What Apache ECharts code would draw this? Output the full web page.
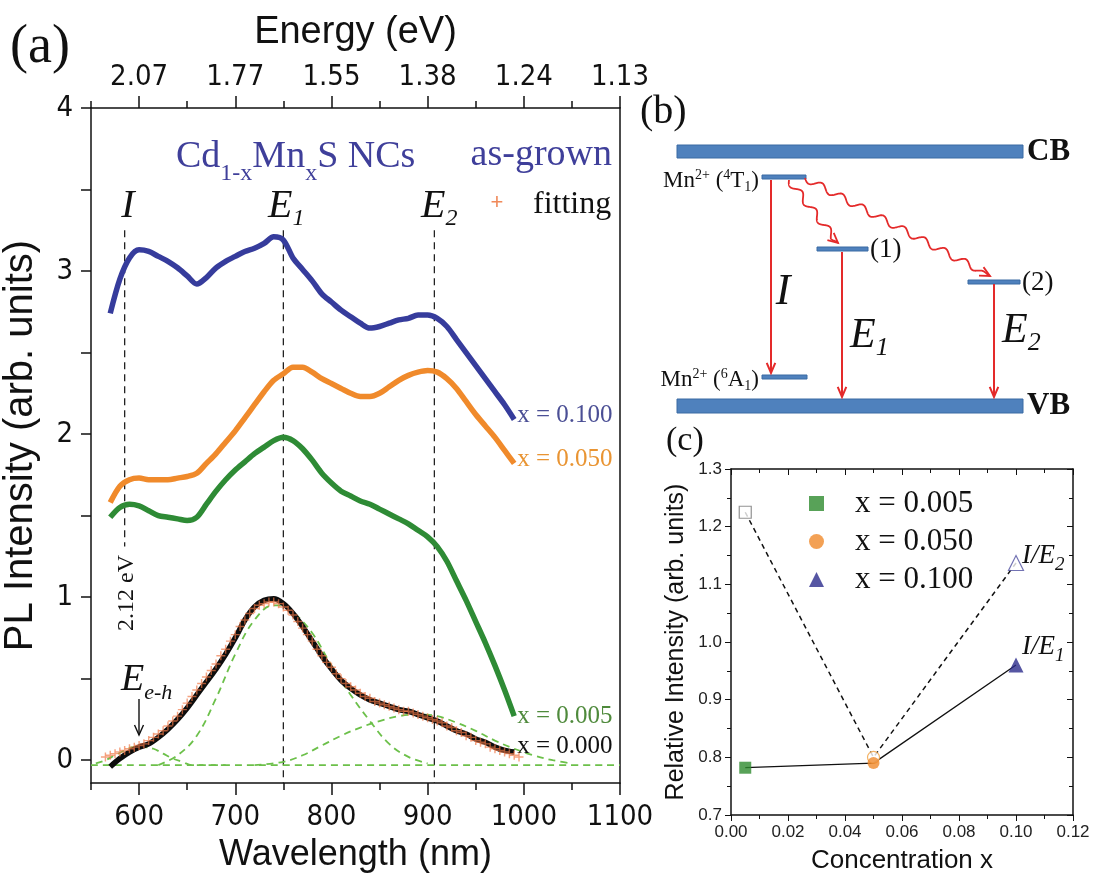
<!DOCTYPE html>
<html>
<head>
<meta charset="utf-8">
<script src="https://cdn.jsdelivr.net/npm/echarts@6/dist/echarts.min.js"></script>
<style>html,body{margin:0;padding:0;background:#fff}#main{width:1094px;height:879px}</style>
</head>
<body>
<div id="main"></div>
<script>
// ---- panel (a): PL spectra of Cd1-xMnxS NCs ----
const wl = [570,580,590,600,610,620,630,640,650,660,670,680,690,700,710,720,730,740,750,760,770,780,790,800,810,820,830,840,850,860,870,880,890,900,910,920,930,940,950,960,970,980,990];
const pl100 = [2.74,2.95,3.08,3.13,3.12,3.09,3.06,3.02,2.97,2.92,2.96,3.02,3.06,3.09,3.12,3.14,3.17,3.21,3.19,3.08,3.01,2.94,2.86,2.81,2.76,2.72,2.68,2.65,2.66,2.68,2.70,2.71,2.73,2.73,2.71,2.66,2.58,2.50,2.42,2.34,2.26,2.18,2.09];
const pl050 = [1.58,1.68,1.72,1.73,1.72,1.72,1.72,1.73,1.74,1.76,1.82,1.88,1.95,2.02,2.10,2.18,2.26,2.33,2.37,2.41,2.41,2.38,2.34,2.31,2.28,2.25,2.23,2.23,2.25,2.29,2.33,2.36,2.38,2.39,2.38,2.34,2.28,2.20,2.12,2.05,1.98,1.90,1.82];
const pl005 = [1.49,1.55,1.57,1.56,1.53,1.50,1.49,1.48,1.47,1.49,1.57,1.65,1.72,1.78,1.83,1.88,1.92,1.96,1.98,1.96,1.91,1.84,1.76,1.70,1.65,1.62,1.59,1.57,1.54,1.51,1.48,1.45,1.41,1.37,1.31,1.22,1.10,0.98,0.85,0.72,0.58,0.43,0.27];
const pl000 = [-0.04,0.01,0.05,0.08,0.10,0.14,0.19,0.25,0.32,0.40,0.48,0.56,0.65,0.75,0.86,0.94,0.98,0.99,0.96,0.90,0.82,0.73,0.64,0.56,0.49,0.44,0.40,0.37,0.35,0.33,0.31,0.30,0.28,0.26,0.24,0.21,0.18,0.16,0.13,0.11,0.08,0.06,0.05];

// fitting (crosses)
const wlFit = [565,570,575,580,585,590,595,600,605,610,615,620,625,630,635,640,645,650,655,660,665,670,675,680,685,690,695,700,705,710,715,720,725,730,735,740,745,750,755,760,765,770,775,780,785,790,795,800,805,810,815,820,825,830,835,840,845,850,855,860,865,870,875,880,885,890,895,900,905,910,915,920,925,930,935,940,945,950,955,960,965,970,975,980,985,990,995];
const plFit = [0.02,0.03,0.04,0.05,0.06,0.07,0.08,0.09,0.10,0.12,0.14,0.16,0.18,0.21,0.24,0.27,0.31,0.35,0.39,0.43,0.47,0.51,0.55,0.59,0.64,0.68,0.73,0.77,0.82,0.86,0.90,0.93,0.95,0.96,0.97,0.97,0.96,0.94,0.92,0.89,0.85,0.81,0.77,0.73,0.68,0.64,0.60,0.57,0.53,0.50,0.47,0.45,0.43,0.41,0.39,0.38,0.36,0.35,0.34,0.33,0.32,0.31,0.30,0.30,0.29,0.28,0.27,0.26,0.25,0.24,0.23,0.21,0.20,0.18,0.17,0.15,0.14,0.12,0.11,0.10,0.08,0.07,0.06,0.05,0.04,0.03,0.02];

// fitted components (green dashed)
const compIwl = [555,565,575,585,595,605,615,625,635,645,655,670,690];
const compIval = [-0.02,0.00,0.03,0.06,0.08,0.08,0.07,0.04,0.01,-0.01,-0.03,-0.03,-0.03];
const compE1wl = [620,640,660,680,700,720,740,750,760,780,800,820,840,860,880,900];
const compE1val = [-0.03,0.03,0.15,0.38,0.65,0.86,0.95,0.95,0.91,0.78,0.58,0.40,0.24,0.10,0.02,-0.02];
const compE2wl = [720,750,770,790,810,830,850,870,890,910,930,950,970,990,1010,1030,1050];
const compE2val = [-0.03,-0.01,0.03,0.09,0.15,0.20,0.24,0.27,0.28,0.27,0.23,0.18,0.12,0.07,0.03,0.00,-0.02];
const baseWl = [550,1100];
const baseVal = [-0.03,-0.03];

// peak positions I, E1, E2 (vertical dashed lines)
const peakWl = [585,750,907];
const peakTop = [3.25,3.25,3.25];
const peakBottom = [1.31,-0.14,-0.14];

// ticks
const wlMajor = [600,700,800,900,1000,1100];
const wlMinor = [550,650,750,850,950,1050];
const energyLabels = ['2.07','1.77','1.55','1.38','1.24','1.13'];
const plLabels = [0,1,2,3,4];
const plTicks = [0,0.5,1,1.5,2,2.5,3,3.5,4];

// ---- panel (c): relative intensity vs concentration ----
const conc = [0.005,0.050,0.100];
const ratioE1 = [0.782,0.790,0.960];
const ratioE2 = [1.225,0.800,1.137];
const concNames = ['x = 0.005','x = 0.050','x = 0.100'];

const SERIF = '"Liberation Serif","Times New Roman",serif';
const SANS = '"Liberation Sans",Arial,sans-serif';
const NARROW = '"Liberation Sans Narrow","DejaVu Sans Condensed","Liberation Sans",sans-serif';

const cBlue = '#363c9c', cOrange = '#f08a2b', cGreen = '#2e8b35', cBlack = '#0d0d0d';
const cDash = '#6cc04a', cRed = '#e42a2a', cBar = '#4f81bd';
const cMk = ['#2e8b2e','#f0892a','#2c2c8c'];
const mkSym = ['rect','circle','triangle'];
const mkSize = [12,12,15];

const pairs = (xs, ys) => xs.map((x, i) => [x, ys[i]]);

function spectrum(name, vals, color, label, lblColor, off) {
  return {
    name, type: 'line', xAxisIndex: 0, yAxisIndex: 0,
    data: pairs(wl, vals), smooth: 0.3, showSymbol: false, z: 4,
    lineStyle: { color, width: 5.5 },
    endLabel: { show: true, formatter: label, color: lblColor, fontFamily: SERIF, fontSize: 25, distance: 3, offset: off }
  };
}
function dashed(xs, ys) {
  return { type: 'line', xAxisIndex: 0, yAxisIndex: 0, data: pairs(xs, ys), smooth: 0.4, showSymbol: false, z: 3,
    lineStyle: { color: cDash, width: 1.8, type: [7, 5] } };
}

// ---- panel (b) helpers ----
function vHead(x, y, dx, dy, len, spread) {
  const a = Math.atan2(dy, dx);
  return [[x - len * Math.cos(a - spread), y - len * Math.sin(a - spread)], [x, y],
          [x - len * Math.cos(a + spread), y - len * Math.sin(a + spread)]];
}
function wavy(x1, y1, x2, y2, waves, amp) {
  const pts = [], dx = x2 - x1, dy = y2 - y1, L = Math.hypot(dx, dy), nx = -dy / L, ny = dx / L;
  for (let i = 0; i <= 300; i++) {
    const t = i / 300;
    const o = amp * Math.sin(2 * Math.PI * waves * t) * (t < 0.9 ? 1 : (1 - t) / 0.1);
    pts.push([x1 + dx * t + nx * o, y1 + dy * t + ny * o]);
  }
  return pts;
}
const line = (pts, color, w) => ({ type: 'polyline', shape: { points: pts }, style: { stroke: color, fill: null, lineWidth: w } });
const bar = (x, y, w, h) => ({ type: 'rect', shape: { x, y, width: w, height: h }, style: { fill: cBar, stroke: '#3b6aa3', lineWidth: 1 } });
const txt = (x, y, text, font, fill, align, extra) => Object.assign({ type: 'text', x, y,
  style: { text, font, fill: fill || '#111', textAlign: align || 'left', textVerticalAlign: 'middle' } }, extra || {});
const rtxt = (x, y, text, rich, align) => ({ type: 'text', x, y,
  style: { text, rich, textAlign: align || 'left', textVerticalAlign: 'middle' } });

const subRich = (size, sub, color, italic, drop) => ({
  m: { fontFamily: SERIF, fontSize: size, fill: color, fontStyle: italic ? 'italic' : 'normal' },
  s: { fontFamily: SERIF, fontSize: sub, fill: color, fontStyle: italic ? 'italic' : 'normal', padding: [drop, 0, 0, 0] }
});
const mnRich = (size, small) => ({
  n: { fontFamily: SERIF, fontSize: size, fill: '#111' },
  p: { fontFamily: SERIF, fontSize: small, fill: '#111', padding: [0, 0, 11, 0] },
  q: { fontFamily: SERIF, fontSize: small, fill: '#111', padding: [12, 0, 0, 0] }
});

const graphics = [
  // panel (a) annotations
  txt(10, 48, '(a)', '54px ' + SERIF, '#111'),
  rtxt(176, 157, '{m|Cd}{s|1-x}{m|Mn}{s|x}{m|S NCs}', subRich(38, 24, '#3f3f9a', false, 34)),
  txt(612, 155, 'as-grown', '38px ' + SERIF, '#3f3f9a', 'right'),
  txt(497, 203, '+', '22px ' + SANS, '#f08a5a', 'center'),
  txt(533, 205, 'fitting', '32px ' + SERIF, '#111'),
  txt(128, 206, 'I', 'italic 40px ' + SERIF, '#111', 'center'),
  rtxt(268, 206, '{m|E}{s|1}', subRich(40, 24, '#111', true, 26)),
  rtxt(421, 206, '{m|E}{s|2}', subRich(40, 24, '#111', true, 26)),
  txt(127, 593, '2.12 eV', '24px ' + SERIF, '#111', 'center', { rotation: Math.PI / 2 }),
  rtxt(121, 680, '{m|E}{s|e-h}', subRich(38, 22, '#111', true, 26)),
  line([[139, 699], [139, 735]], '#111', 1.4),
  line(vHead(139, 735, 0, 1, 11, 0.42), '#111', 1.4),

  // panel (b) energy diagram
  txt(640, 112, '(b)', '40px ' + SERIF, '#111'),
  bar(677, 145, 346, 13),
  bar(677, 399, 346, 14),
  txt(1027, 152, 'CB', 'bold 31px ' + SERIF, '#111'),
  txt(1027, 406, 'VB', 'bold 31px ' + SERIF, '#111'),
  bar(762, 175, 44, 4),
  bar(817, 247, 51, 4),
  bar(968, 280, 52, 4),
  bar(762, 375, 45, 4),
  rtxt(759, 181, '{n|Mn}{p|2+}{n| (}{p|4}{n|T}{q|1}{n|)}', mnRich(23, 14), 'right'),
  rtxt(759, 380, '{n|Mn}{p|2+}{n| (}{p|6}{n|A}{q|1}{n|)}', mnRich(23, 14), 'right'),
  txt(870, 250, '(1)', '27px ' + SERIF, '#111'),
  txt(1022, 283, '(2)', '27px ' + SERIF, '#111'),
  line([[771, 180], [771, 373]], cRed, 2),
  line(vHead(771, 373, 0, 1, 11, 0.4), cRed, 2),
  line([[842, 252], [842, 397]], cRed, 2),
  line(vHead(842, 397, 0, 1, 11, 0.4), cRed, 2),
  line([[994, 284], [994, 397]], cRed, 2),
  line(vHead(994, 397, 0, 1, 11, 0.4), cRed, 2),
  line(wavy(789, 180, 838, 243, 3.5, 3.5), cRed, 1.8),
  line(vHead(838, 243, 0.75, 0.66, 11, 0.45), cRed, 1.8),
  line(wavy(805, 178, 990, 276, 9, 3.5), cRed, 1.8),
  line(vHead(990, 276, 0.88, 0.47, 11, 0.45), cRed, 1.8),
  txt(783, 292, 'I', 'italic 44px ' + SERIF, '#111', 'center'),
  rtxt(850, 336, '{m|E}{s|1}', subRich(42, 26, '#111', true, 24)),
  rtxt(1002, 331, '{m|E}{s|2}', subRich(42, 26, '#111', true, 24)),

  // panel (c) annotations
  txt(666, 441, '(c)', '34px ' + SERIF, '#111'),
  rtxt(1022, 556, '{m|I/E}{s|2}', subRich(27, 19, '#111', true, 18)),
  rtxt(1022, 647, '{m|I/E}{s|1}', subRich(27, 19, '#111', true, 18))
];

const axisBase = { axisLine: { onZero: false, lineStyle: { color: '#111', width: 1.5 } }, splitLine: { show: false } };

const option = {
  animation: false,
  backgroundColor: '#fff',
  grid: [
    { left: 90, right: 474, top: 108, bottom: 96 },
    { left: 731, right: 21, top: 469, bottom: 64 }
  ],
  legend: {
    data: concNames, orient: 'vertical', left: 804, top: 483,
    itemWidth: 15, itemHeight: 15, itemGap: 7,
    textStyle: { fontFamily: SERIF, fontSize: 31, color: '#111', padding: [0, 0, 0, 26] }
  },
  xAxis: [
    Object.assign({}, axisBase, {
      gridIndex: 0, type: 'value', position: 'bottom', min: 550, max: 1100,
      axisTick: { customValues: wlMajor, length: 12, lineStyle: { color: '#111', width: 1.5 } },
      axisLabel: { customValues: wlMajor, margin: 20, fontFamily: NARROW, fontSize: 29, color: '#111',
        formatter: v => String(v) },
      name: 'Wavelength (nm)', nameLocation: 'middle', nameGap: 53,
      nameTextStyle: { fontFamily: SANS, fontSize: 36, color: '#111' }
    }),
    Object.assign({}, axisBase, {
      gridIndex: 0, type: 'value', position: 'bottom', min: 550, max: 1100,
      axisLine: { show: false, onZero: false },
      axisTick: { customValues: wlMinor, length: 7, lineStyle: { color: '#111', width: 1.5 } },
      axisLabel: { show: false }
    }),
    Object.assign({}, axisBase, {
      gridIndex: 0, type: 'value', position: 'top', min: 550, max: 1100,
      axisTick: { customValues: wlMajor, length: 12, lineStyle: { color: '#111', width: 1.5 } },
      axisLabel: { customValues: wlMajor, margin: 16, fontFamily: NARROW, fontSize: 29, color: '#111',
        formatter: v => energyLabels[wlMajor.indexOf(v)] || '' },
      name: 'Energy (eV)', nameLocation: 'middle', nameGap: 56,
      nameTextStyle: { fontFamily: SANS, fontSize: 38, color: '#111' }
    }),
    Object.assign({}, axisBase, {
      gridIndex: 0, type: 'value', position: 'top', min: 550, max: 1100,
      axisLine: { show: false, onZero: false },
      axisTick: { customValues: wlMinor, length: 7, lineStyle: { color: '#111', width: 1.5 } },
      axisLabel: { show: false }
    }),
    Object.assign({}, axisBase, {
      gridIndex: 1, type: 'value', position: 'bottom', min: 0, max: 0.12, interval: 0.02,
      axisTick: { length: 6, lineStyle: { color: '#111' } },
      minorTick: { show: true, splitNumber: 2, length: 4, lineStyle: { color: '#111' } },
      axisLabel: { formatter: v => v.toFixed(2), fontFamily: SANS, fontSize: 17, color: '#222', margin: 9 },
      name: 'Concentration x', nameLocation: 'middle', nameGap: 33,
      nameTextStyle: { fontFamily: SANS, fontSize: 26, color: '#111' }
    }),
    Object.assign({}, axisBase, {
      gridIndex: 1, type: 'value', position: 'top', min: 0, max: 0.12, interval: 0.02,
      axisTick: { inside: true, length: 6, lineStyle: { color: '#111' } },
      minorTick: { show: true, splitNumber: 2, length: 4, lineStyle: { color: '#111' } },
      axisLabel: { show: false }
    })
  ],
  yAxis: [
    Object.assign({}, axisBase, {
      gridIndex: 0, type: 'value', min: -0.14, max: 4,
      axisTick: { customValues: plTicks, length: 10, lineStyle: { color: '#111', width: 1.5 } },
      axisLabel: { customValues: plLabels, margin: 18, fontFamily: NARROW, fontSize: 29, color: '#111' },
      name: 'PL Intensity (arb. units)', nameLocation: 'middle', nameGap: 50, nameRotate: 90,
      nameTextStyle: { fontFamily: SANS, fontSize: 40, color: '#111' }
    }),
    Object.assign({}, axisBase, {
      gridIndex: 0, type: 'value', position: 'right', min: -0.14, max: 4,
      axisTick: { show: false }, axisLabel: { show: false }
    }),
    Object.assign({}, axisBase, {
      gridIndex: 1, type: 'value', min: 0.7, max: 1.3, interval: 0.1,
      axisTick: { length: 6, lineStyle: { color: '#111' } },
      minorTick: { show: true, splitNumber: 2, length: 4, lineStyle: { color: '#111' } },
      axisLabel: { formatter: v => v.toFixed(1), fontFamily: SANS, fontSize: 17, color: '#222', margin: 9 },
      name: 'Relative Intensity (arb. units)', nameLocation: 'middle', nameGap: 42, nameRotate: 90,
      nameTextStyle: { fontFamily: SANS, fontSize: 25, color: '#111' }
    }),
    Object.assign({}, axisBase, {
      gridIndex: 1, type: 'value', position: 'right', min: 0.7, max: 1.3, interval: 0.1,
      axisTick: { inside: true, length: 6, lineStyle: { color: '#111' } },
      minorTick: { show: true, splitNumber: 2, length: 4, lineStyle: { color: '#111' } },
      axisLabel: { show: false }
    })
  ],
  series: [
    dashed(baseWl, baseVal),
    dashed(compIwl, compIval),
    dashed(compE1wl, compE1val),
    dashed(compE2wl, compE2val),
    // vertical dashed lines at I, E1, E2
    ...peakWl.map((w, i) => ({
      type: 'line', xAxisIndex: 0, yAxisIndex: 0, showSymbol: false, z: 2,
      data: [[w, peakTop[i]], [w, peakBottom[i]]],
      lineStyle: { color: '#222', width: 1.3, type: [7, 5] }
    })),
    spectrum('x=0.100', pl100, cBlue, 'x = 0.100', '#4b4f95', [0, -4]),
    spectrum('x=0.050', pl050, cOrange, 'x = 0.050', '#e99432', [0, -4]),
    spectrum('x=0.005', pl005, cGreen, 'x = 0.005', '#4f8a3c', [0, 0]),
    spectrum('x=0.000', pl000, cBlack, 'x = 0.000', '#111', [0, -6]),
    {
      name: 'fitting', type: 'scatter', xAxisIndex: 0, yAxisIndex: 0, z: 5,
      data: pairs(wlFit, plFit),
      symbol: 'path://M4.2,0H5.8V4.2H10V5.8H5.8V10H4.2V5.8H0V4.2H4.2Z', symbolSize: 9,
      itemStyle: { color: 'rgba(240,120,70,0.85)' }
    },
    // panel (c)
    {
      type: 'line', xAxisIndex: 4, yAxisIndex: 2, data: pairs(conc, ratioE1), showSymbol: false, z: 2,
      lineStyle: { color: '#111', width: 1.3 }
    },
    {
      type: 'line', xAxisIndex: 4, yAxisIndex: 2, data: pairs(conc, ratioE2), showSymbol: false, z: 2,
      lineStyle: { color: '#111', width: 1.5, type: [5, 4] }
    },
    {
      type: 'scatter', xAxisIndex: 4, yAxisIndex: 2, z: 3,
      data: conc.map((c, i) => ({ value: [c, ratioE2[i]], symbol: mkSym[i], symbolSize: mkSize[i],
        itemStyle: { color: '#fff', borderColor: ['#777', '#f0a040', '#5050a0'][i], borderWidth: 1.2 } }))
    },
    ...conc.map((c, i) => ({
      name: concNames[i], type: 'scatter', xAxisIndex: 4, yAxisIndex: 2, z: 4,
      data: [[c, ratioE1[i]]], symbol: mkSym[i], symbolSize: mkSize[i],
      itemStyle: { color: cMk[i] }
    }))
  ],
  graphic: graphics
};

const chart = echarts.init(document.getElementById('main'));
chart.setOption(option);
</script>
</body>
</html>
